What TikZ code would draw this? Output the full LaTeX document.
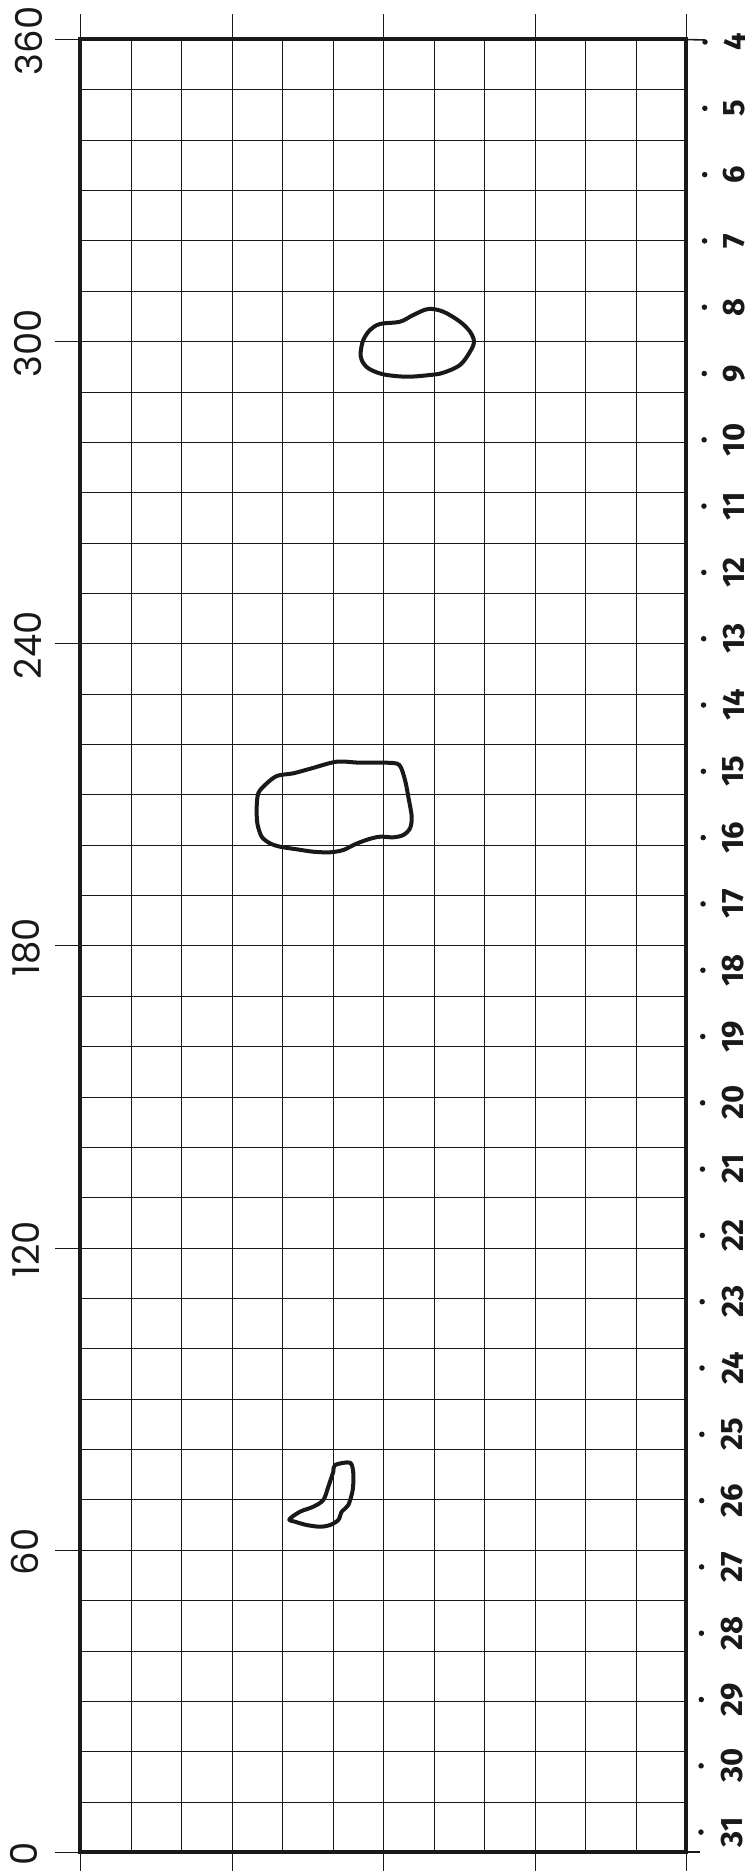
\documentclass[tikz,border=0pt]{standalone}
\usepackage{fontspec}
\newfontfamily\axisfont{Poppins}
\newfontfamily\dayfont{Fira Sans}
\definecolor{ink}{gray}{0.1}
\tikzset{
  gridline/.style={draw=ink, line width=1.7pt},
  frameline/.style={draw=ink, line width=3.6pt, line cap=rect},
  tickline/.style={draw=ink, line width=1.6pt},
  blob/.style={draw=ink, line width=4pt, line join=round},
  axislab/.style={font=\axisfont\fontsize{37}{37}\selectfont, text=ink, inner sep=0pt, rotate=90},
  daylab/.style={font=\dayfont\bfseries\fontsize{31}{31}\selectfont, text=ink, inner sep=0pt, rotate=90},
  daydot/.style={fill=ink, circle, inner sep=0pt, minimum size=5.5pt}
}
\begin{document}
\begin{tikzpicture}[x=1pt, y=-1pt]
\useasboundingbox (0,0) rectangle (752,1871);
\fill[white] (0,0) rectangle (752,1871);
% grid
\foreach \i in {1,...,11} {
  \pgfmathsetmacro{\gx}{round(80+\i*50.5)+0.5}
  \draw[gridline] (\gx,39) -- (\gx,1852);
}
\foreach \j in {1,...,35} {
  \pgfmathsetmacro{\gy}{round(39+\j*50.36)+0.5}
  \draw[gridline] (80,\gy) -- (686,\gy);
}
% ticks top and bottom
\foreach \i in {0,3,6,9,12} {
  \pgfmathsetmacro{\gx}{round(80+\i*50.5)+0.5}
  \draw[tickline] (\gx,14) -- (\gx,39);
  \draw[tickline] (\gx,1852) -- (\gx,1871);
}
% left ticks and labels
\foreach \v [count=\k from 0] in {360,300,240,180,120,60,0} {
  \pgfmathsetmacro{\gy}{round(39+\k*302.16)+0.5}
  \draw[tickline] (55,\gy) -- (80,\gy);
  \node[axislab] (a\v) at ({29-\k*0.8},{41+\k*302.16}) {\v};
}
% right ticks
\coordinate (rt) at (705,40);
\coordinate (rb) at (700,1852);
\draw[tickline] (686,39.5) -- (rt);
\draw[tickline] (686,1852) -- (rb);
% right labels with dots
\foreach \n [count=\k from 0] in {4,...,31} {
  \node[daydot] (p\n) at ({705-\k*0.15},{42+\k*66.3}) {};
  \node[daylab] (d\n) at ({734.5-\k*0.1},{42+\k*66.3}) {\n};
}
% frame
\draw[frameline] (80,39) rectangle (686,1852);
% shapes
\draw[blob] plot[smooth cycle, tension=0.55] coordinates {
 (360.7,352) (363.3,340) (370,330) (380,324) (400,321.7) (413.3,315) (428.3,309)
 (443.3,311.7) (460,321.7) (470,331.7) (474,341.7) (470,351.7) (460,365)
 (443.3,372.7) (430,375) (406.7,376.7) (383.3,374.3) (368.3,368.3) (361.7,360)};
\draw[blob] plot[smooth cycle, tension=0.5] coordinates {
 (256.7,806.7) (258.3,793.3) (265,785) (276.7,776) (293.3,773.3) (311.7,768.3)
 (336.7,761.7) (360,762.7) (386.7,762.7) (399.3,765) (405,780) (408.3,796.7)
 (411.7,816.7) (410,828.3) (403.3,835) (393.3,837.3) (380,836.7) (368.3,839.3)
 (355,844.3) (343.3,850) (330,852.3) (313.3,851.7) (296.7,849.3) (280,846.7)
 (270,843.3) (261.7,836.7) (257.3,823.3)};
\draw[blob] plot[smooth cycle, tension=0.5] coordinates {
 (335,1465) (350,1462.7) (353.3,1473.3) (352.7,1490) (348.3,1505) (341.7,1511.7)
 (338.3,1520) (330,1525) (320,1526.7) (306.7,1525) (295,1521.7) (289.3,1519.3)
 (300,1511.7) (313.3,1506.7) (323.3,1500) (328.3,1486.7) (333.3,1471.7)};
\end{tikzpicture}
\end{document}
